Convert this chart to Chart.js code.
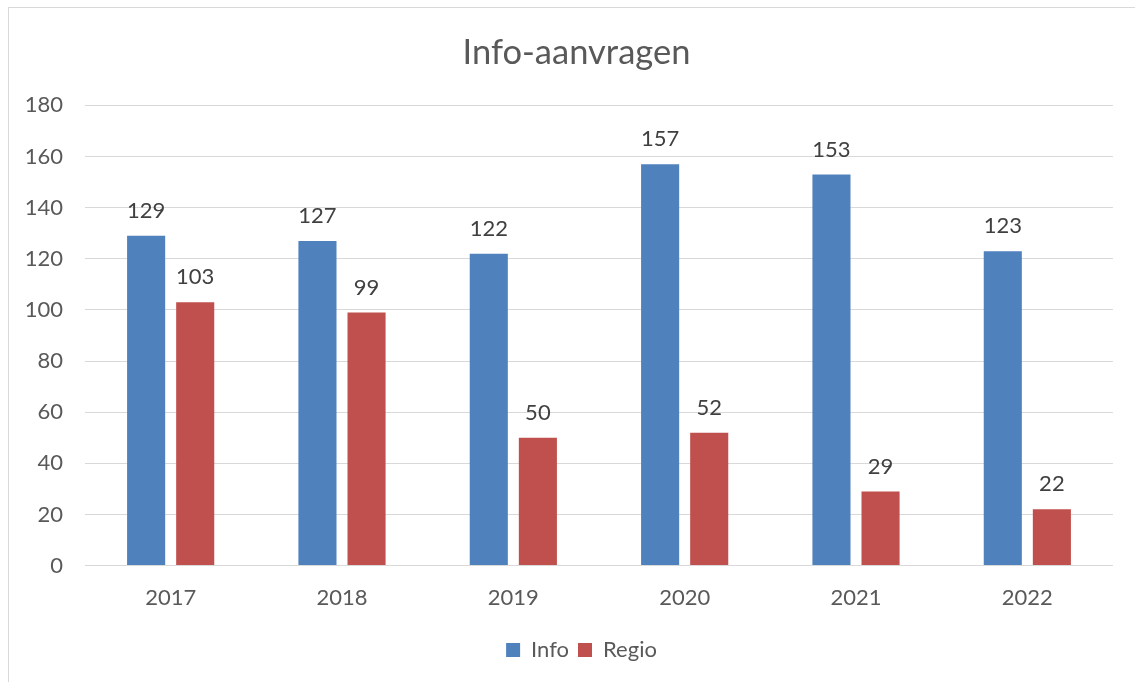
<!DOCTYPE html>
<html>
<head>
<meta charset="utf-8">
<script src="https://cdn.jsdelivr.net/npm/chart.js@4"></script>
<style>
  html, body { margin: 0; padding: 0; background: #fff; overflow: hidden; }
  #wrap { position: relative; width: 1135px; height: 682px; }
  #frame { position: absolute; left: 8px; top: 7px; width: 1140px; height: 700px; border: 1px solid #d9d9d9; box-sizing: border-box; }
  canvas { position: absolute; left: 0; top: 0; }
</style>
</head>
<body>
<div id="wrap">
  <div id="frame"></div>
  <canvas id="c" width="1135" height="682"></canvas>
</div>
<script>
const categories = ['2017', '2018', '2019', '2020', '2021', '2022'];
const infoValues = [129, 127, 122, 157, 153, 123];
const regioValues = [103, 99, 50, 52, 29, 22];
const seriesNames = ['Info', 'Regio'];
const yTicks = { min: 0, max: 180, step: 20 };
const chartTitle = 'Info-aanvragen';

const FONT = 'Lato, "Liberation Sans", sans-serif';

const dataLabels = {
  id: 'dataLabels',
  afterDatasetsDraw(chart) {
    const ctx = chart.ctx;
    ctx.save();
    ctx.font = '22px ' + FONT;
    ctx.fillStyle = '#404040';
    ctx.textAlign = 'center';
    ctx.textBaseline = 'middle';
    chart.data.datasets.forEach((ds, i) => {
      const meta = chart.getDatasetMeta(i);
      meta.data.forEach((el, j) => {
        ctx.fillText(String(ds.data[j]), el.x, el.y - 25);
      });
    });
    ctx.restore();
  }
};

// nudge title and legend horizontally (the frame of the original is offset)
const nudgeBoxes = {
  id: 'nudgeBoxes',
  afterLayout(chart) {
    if (chart.titleBlock) { chart.titleBlock.left += 10; chart.titleBlock.right += 10; }
    if (chart.legend) { chart.legend.left += 15; chart.legend.right += 15; }
  }
};

new Chart(document.getElementById('c'), {
  type: 'bar',
  data: {
    labels: categories,
    datasets: [
      { label: seriesNames[0], data: infoValues, backgroundColor: '#4F81BD', categoryPercentage: 0.573, barPercentage: 0.776 },
      { label: seriesNames[1], data: regioValues, backgroundColor: '#C0504D', categoryPercentage: 0.573, barPercentage: 0.776 }
    ]
  },
  options: {
    responsive: false,
    animation: false,
    layout: { padding: { left: 20, right: 22, top: 0, bottom: 11 } },
    plugins: {
      title: {
        display: true,
        text: chartTitle,
        color: '#595959',
        font: { family: FONT, size: 34.5, weight: 'normal' },
        padding: { top: 32, bottom: 32 }
      },
      legend: {
        position: 'bottom',
        labels: {
          color: '#595959',
          font: { family: FONT, size: 22 },
          boxWidth: 14,
          boxHeight: 14,
          padding: 9
        }
      },
      tooltip: { enabled: false }
    },
    scales: {
      x: {
        grid: { display: false, drawTicks: false },
        border: { display: false },
        ticks: { color: '#595959', font: { family: FONT, size: 22 }, padding: 19 }
      },
      y: {
        min: yTicks.min,
        max: yTicks.max,
        afterFit(scale) { scale.width = 65; },
        grid: { color: '#d9d9d9', lineWidth: 1, drawTicks: false },
        border: { display: false },
        ticks: { stepSize: yTicks.step, color: '#595959', font: { family: FONT, size: 22 }, padding: 22 }
      }
    }
  },
  plugins: [dataLabels, nudgeBoxes]
});
</script>
</body>
</html>
